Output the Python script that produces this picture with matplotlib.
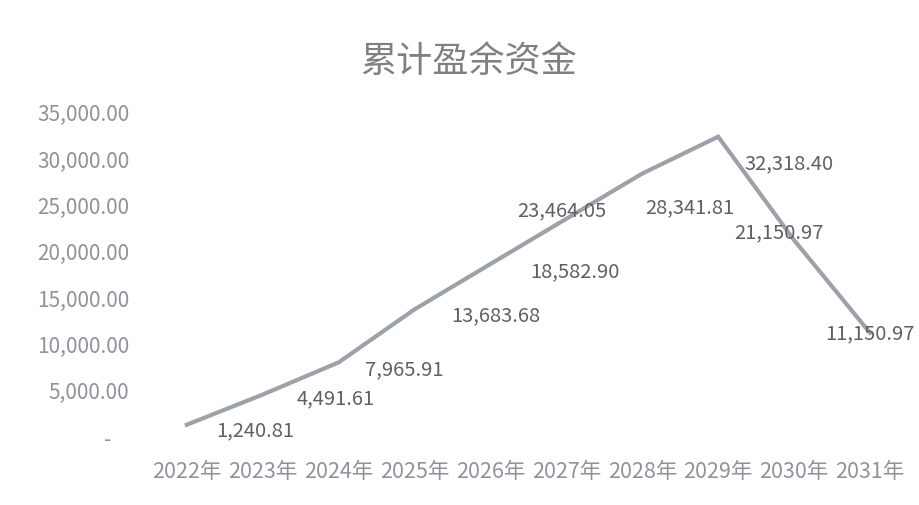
import matplotlib
matplotlib.use("Agg")
import matplotlib.pyplot as plt
from matplotlib.ticker import FuncFormatter

plt.rcParams['font.family'] = ['Noto Sans CJK SC', 'DejaVu Sans']

anios = ["2022年", "2023年", "2024年", "2025年", "2026年",
         "2027年", "2028年", "2029年", "2030年", "2031年"]
valores = [1240.81, 4491.61, 7965.91, 13683.68, 18582.90,
           23464.05, 28341.81, 32318.40, 21150.97, 11150.97]
titulo = "累计盈余资金"

# desplazamiento de cada etiqueta respecto a su punto (pixeles)
desplazamientos = [(68, -5), (73, -3), (66, -6), (81, -5), (84, -7),
                   (-5, 9), (47, -33), (71, -26), (-15, 8), (0, 0)]


def formato_eje(v, pos):
    if v == 0:
        return "-    "
    return f"{v:,.2f}"


fig = plt.figure(figsize=(9.19, 5.06), dpi=100)
ax = fig.add_axes([0.162, 0.136, 0.826, 0.641])

x = list(range(len(anios)))
ax.plot(x, valores, color="#9da2aa", linewidth=3, solid_joinstyle="miter")

for i, v in enumerate(valores):
    dx, dy = desplazamientos[i]
    ax.annotate(f"{v:,.2f}", (i, v), xytext=(dx, dy), textcoords="offset pixels",
                ha="center", va="center", fontsize=14.5, color="#606060")

ax.set_xlim(-0.5, len(anios) - 0.5)
ax.set_ylim(0, 35000)
ax.set_yticks(range(0, 35001, 5000))
ax.yaxis.set_major_formatter(FuncFormatter(formato_eje))
ax.set_xticks(x)
ax.set_xticklabels(anios)
ax.tick_params(axis="both", length=0, labelsize=15, colors="#8e939c")
ax.tick_params(axis="x", labelsize=15.5, pad=17)
ax.tick_params(axis="y", pad=14)
for s in ax.spines.values():
    s.set_visible(False)

fig.text(0.51, 0.877, titulo, ha="center", va="center", fontsize=26, color="#808080")

fig.savefig("out.png", dpi=100)
